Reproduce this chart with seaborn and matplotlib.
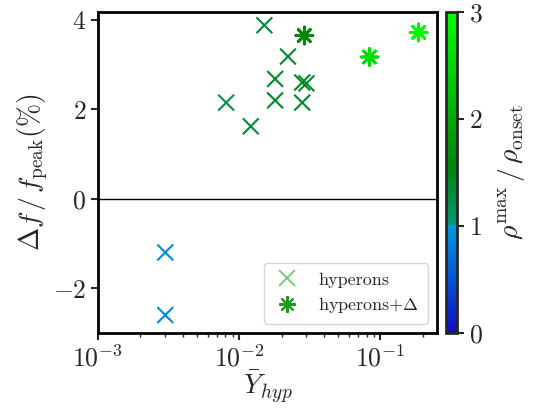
import numpy as np
import pandas as pd
import matplotlib
matplotlib.use("Agg")
import matplotlib.pyplot as plt
import seaborn as sns
from matplotlib.colors import LinearSegmentedColormap, Normalize
from matplotlib.lines import Line2D
from matplotlib.cm import ScalarMappable

# data
hyp_x = [0.003, 0.003, 0.0081, 0.0121, 0.0151, 0.018, 0.018, 0.0222, 0.028, 0.028, 0.030]
hyp_y = [-1.2, -2.6, 2.15, 1.62, 3.88, 2.68, 2.2, 3.18, 2.15, 2.6, 2.58]
hyp_rho = [0.9, 0.9, 1.2, 1.3, 1.35, 1.4, 1.4, 1.4, 1.4, 1.45, 1.4]

del_x = [0.029, 0.084, 0.187]
del_y = [3.65, 3.17, 3.72]
del_rho = [1.6, 2.6, 2.95]

cbar_ticks = [0, 1, 2, 3]

sns.set_style("ticks")
plt.rcParams['font.family'] = ['serif']
plt.rcParams['font.serif'] = ['cmr10', 'DejaVu Serif']
plt.rcParams['mathtext.fontset'] = 'cm'
plt.rcParams['axes.formatter.use_mathtext'] = True
plt.rcParams['axes.unicode_minus'] = True

cmap = LinearSegmentedColormap.from_list("rho", [
    (0.0, (0.05, 0.05, 0.8)),
    (1/3, (0.0, 0.6, 0.87)),
    (1/3, (0.0, 0.6, 0.45)),
    (0.52, (0.0, 0.52, 0.05)),
    (1.0, (0.0, 1.0, 0.0)),
])
norm = Normalize(0, 3)

df_h = pd.DataFrame({"x": hyp_x, "y": hyp_y, "rho": hyp_rho})
df_d = pd.DataFrame({"x": del_x, "y": del_y, "rho": del_rho})

fig = plt.figure(figsize=(5.41, 4.08), dpi=100)
ax = fig.add_axes([0.181, 0.184, 0.627, 0.787])
cax = fig.add_axes([0.824, 0.184, 0.021, 0.787])

ax.axhline(0, color='black', lw=1, zorder=0)

sns.scatterplot(data=df_h, x="x", y="y", hue="rho", palette=cmap, hue_norm=norm,
                marker='x', s=130, linewidth=1.5, legend=False, ax=ax)
sns.scatterplot(data=df_d, x="x", y="y", hue="rho", palette=cmap, hue_norm=norm,
                marker=(8, 2, 0), s=150, linewidth=2, legend=False, ax=ax)

ax.set_xscale('log')
ax.set_xlim(1e-3, 0.253)
ax.set_ylim(-3, 4.18)
ax.set_yticks([-2, 0, 2, 4])
ax.set_xlabel(r'$\bar{Y}_{hyp}$', fontsize=20, labelpad=-2)
ax.set_ylabel(r'$\Delta f\,/\,f_{\rm peak}(\%)$', fontsize=20, labelpad=2)
ax.tick_params(labelsize=18.5, width=1.5, length=5)
ax.tick_params(which='minor', width=1, length=3)
for s in ax.spines.values():
    s.set_linewidth(2)
    s.set_color('black')

handles = [
    Line2D([], [], marker='x', color=(0.0, 0.6, 0.0), alpha=0.5, linestyle='None',
           markersize=12, markeredgewidth=1.5, label='hyperons'),
    Line2D([], [], marker=(8, 2, 0), color=(0.13, 0.6, 0.13), linestyle='None',
           markersize=12, markeredgewidth=1.5, label=r'hyperons$+\Delta$'),
]
ax.legend(handles=handles, loc='lower right', fontsize=13, handletextpad=0.9,
          handlelength=1.6, borderpad=0.5, labelspacing=0.4)

cb = fig.colorbar(ScalarMappable(norm=norm, cmap=cmap), cax=cax, ticks=cbar_ticks)
cb.set_label(r'$\rho^{\rm max}\,/\,\rho_{\rm onset}$', fontsize=20, labelpad=10)
cb.ax.tick_params(labelsize=18.5, width=1.5, length=5)
cb.outline.set_linewidth(2)

fig.savefig("out.png", dpi=100)
